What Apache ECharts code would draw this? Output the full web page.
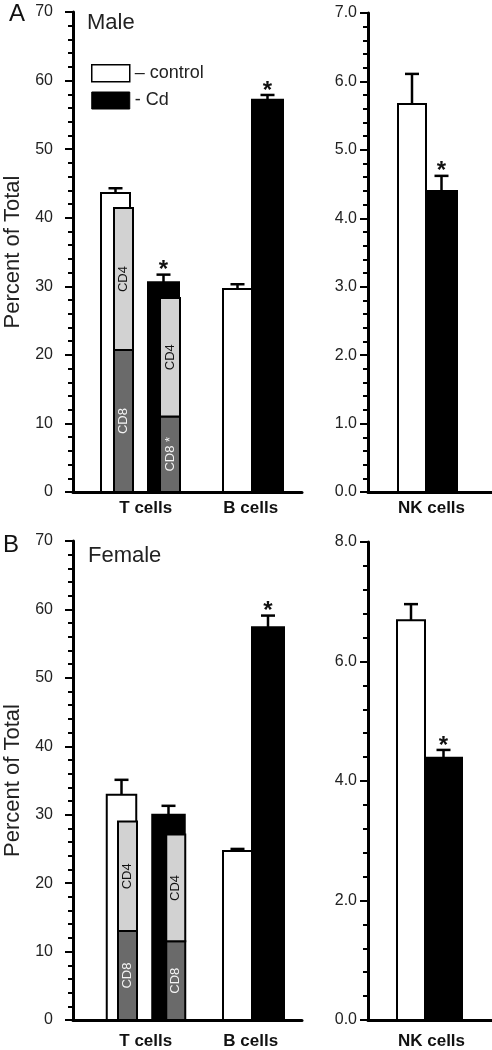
<!DOCTYPE html>
<html><head><meta charset="utf-8">
<script src="https://cdn.jsdelivr.net/npm/echarts@6/dist/echarts.min.js"></script>
<style>html,body{margin:0;padding:0;background:#fff}#c{width:492px;height:1050px}</style>
</head><body><div id="c"></div>
<script>
// ---------------- DATA ----------------
const cellCats = ['T cells', 'B cells'];
const nkCats = ['NK cells'];
const seriesNames = ['control', 'Cd'];
const legendLabels = ['\u2013 control', '- Cd'];

// A: Male
const maleControl = [43.6, 29.6];
const maleControlErr = [0.7, 0.7];
const maleCd = [30.6, 57.2];
const maleCdErr = [1.1, 0.7];
const maleCdSig = [true, true];
// T-cell subsets, [control, Cd]
const maleCD8 = [20.7, 11.0];
const maleCD4 = [20.7, 17.3];
const maleCD8Labels = ['CD8', 'CD8 *'];
const maleNKControl = [5.67];
const maleNKControlErr = [0.44];
const maleNKCd = [4.40];
const maleNKCdErr = [0.22];
const maleNKSig = [true];

// B: Female
const femaleControl = [32.9, 24.7];
const femaleControlErr = [2.2, 0.3];
const femaleCd = [30.0, 57.4];
const femaleCdErr = [1.3, 1.7];
const femaleCdSig = [false, true];
const femaleCD8 = [13.0, 11.5];
const femaleCD4 = [16.0, 15.6];
const femaleCD8Labels = ['CD8', 'CD8'];
const femaleNKControl = [6.69];
const femaleNKControlErr = [0.27];
const femaleNKCd = [4.39];
const femaleNKCdErr = [0.13];
const femaleNKSig = [true];

const cd4Label = 'CD4';
// axis ranges / ticks
const pctAxis = [0, 70, 10];
const maleNKAxis = [0, 7, 1];
const femaleNKAxis = [0, 8, 2];
const yTitle = 'Percent of Total';
const panelLetters = ['A', 'B'];
const panelTitles = ['Male', 'Female'];

// ---------------- LAYOUT (pixel offsets from category centre, widths) ----------------
const FONT = '"Liberation Sans", Arial, sans-serif';
const L = {
  maleLeft:   { control: [[-14.75, 29], [-7.25, 29]], cd: [[33.25, 31], [22.75, 31]], stack: [[-6.75, 19], [39.75, 20]] },
  femaleLeft: { control: [[-8.75, 29.5], [-7.25, 29]], cd: [[38.25, 32.5], [23.25, 32]], stack: [[-2.75, 19], [45.5, 19]] },
  maleNK:     { control: [[-18, 28]], cd: [[11.5, 31]] },
  femaleNK:   { control: [[-19, 28]], cd: [[13.5, 37]] }
};

function barSeries(name, axis, values, lay, fill) {
  return {
    type: 'custom', name, xAxisIndex: axis, yAxisIndex: axis,
    itemStyle: { color: fill, borderColor: '#000', borderWidth: 2 },
    data: values.map((v, i) => [i, v]),
    renderItem(params, api) {
      const i = params.dataIndex;
      const b = api.coord([api.value(0), 0]);
      const t = api.coord([api.value(0), api.value(1)]);
      const [off, w] = lay[i];
      return { type: 'rect', shape: { x: b[0] + off - w / 2, y: t[1], width: w, height: b[1] - t[1] },
        style: { fill, stroke: '#000', lineWidth: 2 } };
    }
  };
}
function errSeries(axis, values, errs, lay, sig) {
  return {
    type: 'custom', name: 'err' + axis, xAxisIndex: axis, yAxisIndex: axis, z: 3,
    data: values.map((v, i) => [i, v, v + errs[i], sig && sig[i] ? 1 : 0]),
    renderItem(params, api) {
      const i = params.dataIndex;
      const t = api.coord([api.value(0), api.value(1)]);
      const e = api.coord([api.value(0), api.value(2)]);
      const x = t[0] + lay[i][0];
      const ch = [
        { type: 'line', shape: { x1: x, y1: t[1], x2: x, y2: e[1] }, style: { stroke: '#000', lineWidth: 2.5 } },
        { type: 'line', shape: { x1: x - 7, y1: e[1], x2: x + 7, y2: e[1] }, style: { stroke: '#000', lineWidth: 2.5 } }
      ];
      if (api.value(3)) ch.push({ type: 'text', x: x, y: e[1] - 4,
        style: { text: '*', fill: '#111', font: 'bold 24px ' + FONT, align: 'center', verticalAlign: 'middle' } });
      return { type: 'group', children: ch };
    }
  };
}
// T-cell subset stacks (category 0 = T cells); j = 0 control, 1 Cd
function stackSeries(axis, cd8, cd4, cd8Labels, lay) {
  const data = [];
  cd8.forEach((v, j) => {
    data.push([0, 0, v, 0, j]);
    data.push([0, v, v + cd4[j], 1, j]);
  });
  return {
    type: 'custom', name: 'subsets' + axis, xAxisIndex: axis, yAxisIndex: axis, z: 2,
    data,
    renderItem(params, api) {
      const c = api.value(0), isCD4 = api.value(3) === 1, j = api.value(4);
      const b = api.coord([c, api.value(1)]);
      const t = api.coord([c, api.value(2)]);
      const [off, w] = lay[j];
      const cx = b[0] + off;
      return { type: 'group', children: [
        { type: 'rect', shape: { x: cx - w / 2, y: t[1], width: w, height: b[1] - t[1] },
          style: { fill: isCD4 ? '#d2d2d2' : '#6a6a6a', stroke: '#000', lineWidth: 2 } },
        { type: 'text', x: cx, y: (b[1] + t[1]) / 2, rotation: Math.PI / 2,
          style: { text: isCD4 ? cd4Label : cd8Labels[j], fill: isCD4 ? '#111' : '#f4f4f4',
            font: '13px ' + FONT, align: 'center', verticalAlign: 'middle' } }
      ] };
    }
  };
}

function yAxis(grid, rng, isPct, fmt, margin) {
  return {
    type: 'value', gridIndex: grid, min: rng[0], max: rng[1], interval: rng[2],
    name: isPct ? yTitle : '', nameLocation: 'middle', nameGap: 49,
    nameTextStyle: { fontSize: 22, color: '#222', fontFamily: FONT },
    axisLine: { show: true, lineStyle: { color: '#000', width: 3 } },
    axisTick: { show: true, length: 8, lineStyle: { color: '#000', width: 2 } },
    minorTick: { show: true, splitNumber: 5, length: 5, lineStyle: { color: '#000', width: 2 } },
    splitLine: { show: false },
    axisLabel: { fontSize: 16, color: '#222', fontFamily: FONT, margin, formatter: fmt }
  };
}
function xAxis(grid, cats, margin, shifts) {
  const rich = {};
  cats.forEach((c, i) => { rich['k' + i] = { padding: [0, 0, 0, shifts[i]], fontSize: 17, fontWeight: 'bold', color: '#111', fontFamily: FONT }; });
  return {
    type: 'category', gridIndex: grid, data: cats,
    axisLine: { show: true, onZero: false, lineStyle: { color: '#000', width: 3 } },
    axisTick: { show: false },
    axisLabel: { margin, formatter: (v) => '{k' + cats.indexOf(v) + '|' + v + '}', rich }
  };
}

const grids = [
  { left: 73, top: 12, width: 229, height: 480 },
  { left: 368, top: 13, width: 124, height: 479 },
  { left: 73, top: 541, width: 229, height: 481 },
  { left: 368, top: 542, width: 124, height: 480 }
];
const one = (v) => v.toFixed(1);

const option = {
  animation: false,
  backgroundColor: '#fff',
  grid: grids,
  xAxis: [
    xAxis(0, cellCats, 8, [31, 12]),
    xAxis(1, nkCats, 8, [3]),
    xAxis(2, cellCats, 13, [31, 12]),
    xAxis(3, nkCats, 13, [3])
  ],
  yAxis: [
    yAxis(0, pctAxis, true, null, 20),
    yAxis(1, maleNKAxis, false, one, 11),
    yAxis(2, pctAxis, true, null, 20),
    yAxis(3, femaleNKAxis, false, one, 11)
  ],
  legend: {
    left: 91, top: 64, orient: 'vertical', itemWidth: 38, itemHeight: 17, itemGap: 9, padding: 0,
    icon: 'rect', selectedMode: false,
    data: [
      { name: seriesNames[0], itemStyle: { color: '#fff', borderColor: '#000', borderWidth: 1.5 } },
      { name: seriesNames[1], itemStyle: { color: '#000', borderColor: '#000', borderWidth: 1 } }
    ],
    formatter: (n) => legendLabels[seriesNames.indexOf(n)],
    textStyle: { fontSize: 18, color: '#222', fontFamily: FONT }
  },
  graphic: [
    { type: 'text', x: 9, y: 14, style: { text: panelLetters[0], font: '24px ' + FONT, fill: '#111', verticalAlign: 'middle' } },
    { type: 'text', x: 87, y: 22.5, style: { text: panelTitles[0], font: '22px ' + FONT, fill: '#222', verticalAlign: 'middle' } },
    { type: 'text', x: 3, y: 545.5, style: { text: panelLetters[1], font: '24px ' + FONT, fill: '#111', verticalAlign: 'middle' } },
    { type: 'text', x: 88, y: 556, style: { text: panelTitles[1], font: '22px ' + FONT, fill: '#222', verticalAlign: 'middle' } }
  ],
  series: [
    barSeries(seriesNames[0], 0, maleControl, L.maleLeft.control, '#fff'),
    barSeries(seriesNames[1], 0, maleCd, L.maleLeft.cd, '#000'),
    stackSeries(0, maleCD8, maleCD4, maleCD8Labels, L.maleLeft.stack),
    errSeries(0, maleControl, maleControlErr, L.maleLeft.control, null),
    errSeries(0, maleCd, maleCdErr, L.maleLeft.cd, maleCdSig),

    barSeries(seriesNames[0], 1, maleNKControl, L.maleNK.control, '#fff'),
    barSeries(seriesNames[1], 1, maleNKCd, L.maleNK.cd, '#000'),
    errSeries(1, maleNKControl, maleNKControlErr, L.maleNK.control, null),
    errSeries(1, maleNKCd, maleNKCdErr, L.maleNK.cd, maleNKSig),

    barSeries(seriesNames[0], 2, femaleControl, L.femaleLeft.control, '#fff'),
    barSeries(seriesNames[1], 2, femaleCd, L.femaleLeft.cd, '#000'),
    stackSeries(2, femaleCD8, femaleCD4, femaleCD8Labels, L.femaleLeft.stack),
    errSeries(2, femaleControl, femaleControlErr, L.femaleLeft.control, null),
    errSeries(2, femaleCd, femaleCdErr, L.femaleLeft.cd, femaleCdSig),

    barSeries(seriesNames[0], 3, femaleNKControl, L.femaleNK.control, '#fff'),
    barSeries(seriesNames[1], 3, femaleNKCd, L.femaleNK.cd, '#000'),
    errSeries(3, femaleNKControl, femaleNKControlErr, L.femaleNK.control, null),
    errSeries(3, femaleNKCd, femaleNKCdErr, L.femaleNK.cd, femaleNKSig)
  ]
};
const chart = echarts.init(document.getElementById('c'), null, { renderer: 'canvas' });
chart.setOption(option);
</script></body></html>
